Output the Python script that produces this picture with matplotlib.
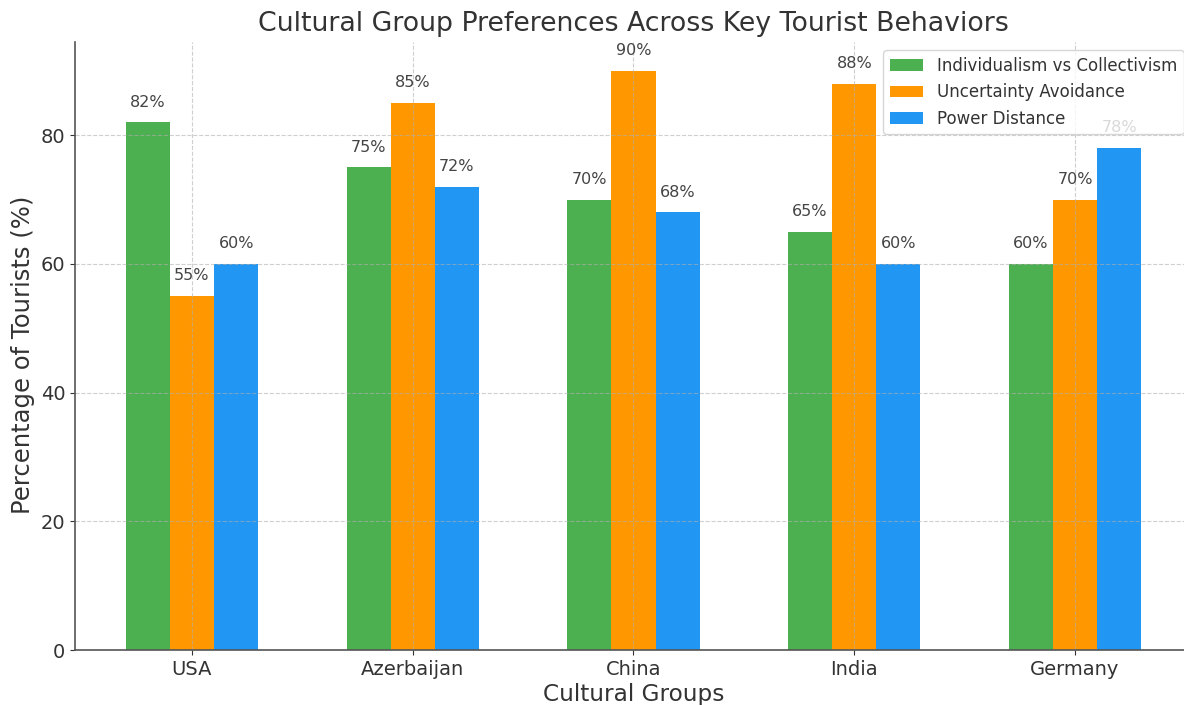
import matplotlib
matplotlib.use("Agg")
import matplotlib.pyplot as plt
import numpy as np

plt.rcParams['font.family'] = ['DejaVu Sans']
plt.rcParams['text.color'] = '#333333'
plt.rcParams['axes.labelcolor'] = '#333333'
plt.rcParams['xtick.color'] = '#333333'
plt.rcParams['ytick.color'] = '#333333'

categories = ["USA", "Azerbaijan", "China", "India", "Germany"]
series_names = ["Individualism vs Collectivism", "Uncertainty Avoidance", "Power Distance"]
individualism = [82, 75, 70, 65, 60]
uncertainty = [55, 85, 90, 88, 70]
power_distance = [60, 72, 68, 60, 78]
colors = ["#4CAF50", "#FF9800", "#2196F3"]

fig = plt.figure(figsize=(11.84, 7.05), dpi=100)
W, H = 1184, 705
left, right, top, bottom = 75, 1192, 42, 650
ax = fig.add_axes([left / W, 1 - bottom / H, (right - left) / W, (bottom - top) / H])

x = np.arange(len(categories))
width = 0.2
all_series = [individualism, uncertainty, power_distance]
for i, (vals, name, c) in enumerate(zip(all_series, series_names, colors)):
    pos = x + (i - 1) * width
    ax.bar(pos, vals, width, label=name, color=c)
    for p, v in zip(pos, vals):
        ax.text(p, v + 2, f"{v}%", ha='center', va='bottom', fontsize=11.5, color='#444444')

ax.set_xticks(x)
ax.set_xticklabels(categories, fontsize=14)
ax.tick_params(axis='y', labelsize=14)
ax.set_ylim(0, 94.5)
ax.set_xlim(-0.53, 4.53)
ax.set_xlabel("Cultural Groups", fontsize=16.7, labelpad=3)
ax.set_ylabel("Percentage of Tourists (%)", fontsize=17.5)
ax.yaxis.set_label_coords(-0.036, 0.485)
ax.set_title("Cultural Group Preferences Across Key Tourist Behaviors", fontsize=19.3, pad=8)
ax.grid(True, linestyle='--', alpha=0.6)
for s in ['top', 'right']:
    ax.spines[s].set_visible(False)
for s in ['left', 'bottom']:
    ax.spines[s].set_color('#555555')
    ax.spines[s].set_linewidth(1.2)
ax.legend(loc='upper right', fontsize=12)

fig.savefig("out.png", dpi=100)
